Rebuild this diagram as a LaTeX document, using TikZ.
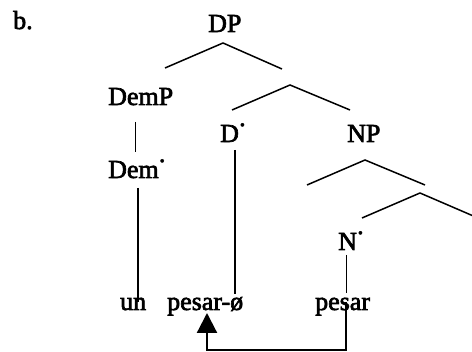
\documentclass[tikz,border=0pt]{standalone}
\usepackage{fontspec}
\setmainfont{Liberation Serif}[FakeBold=2.5]
\usetikzlibrary{arrows.meta}
\tikzset{
  lbl/.style={anchor=base west,inner sep=0pt,font=\fontsize{26}{28}\selectfont},
  branch/.style={line width=1.5pt},
  thinline/.style={line width=1pt},
  thickline/.style={line width=2pt},
  mover/.style={line width=2.2pt,-{Triangle[width=20pt,length=20pt]}}
}
\newcommand{\hd}[1]{#1\kern1pt\raisebox{1.05ex}{\fontsize{14}{14}\selectfont •}}
\begin{document}
\begin{tikzpicture}[x=1pt,y=-1pt]
\useasboundingbox (0,0) rectangle (472,352);
\node[lbl] (b) at (13,29) {b.};
\node[lbl] (dp) at (208,32) {DP};
\node[lbl] (demp) at (108,105) {DemP};
\node[lbl] (dem) at (108,178) {\hd{Dem}};
\node[lbl] (d) at (220,142) {\hd{D}};
\node[lbl] (np) at (347,142) {NP};
\node[lbl] (n) at (338,250) {\hd{N}};
\node[lbl] (un) at (120,310) {un};
\node[lbl] (pesarphi) at (167,310) {pesar-ø};
\node[lbl] (pesar) at (315,310) {pesar};
% branches
\coordinate (a1) at (223,43);
\coordinate (a1l) at (165,68);
\coordinate (a1r) at (282,69);
\coordinate (a2) at (290,85);
\coordinate (a2l) at (232,110);
\coordinate (a2r) at (350,110);
\coordinate (a3) at (365,160);
\coordinate (a3l) at (307,185);
\coordinate (a3r) at (425,185);
\coordinate (a4) at (420,193);
\coordinate (a4l) at (362,218);
\coordinate (a4r) at (478,218);
\begin{scope}
\clip (0,0) rectangle (472,352);
\draw[branch] (a1l) -- (a1) -- (a1r);
\draw[branch] (a2l) -- (a2) -- (a2r);
\draw[branch] (a3l) -- (a3) -- (a3r);
\draw[branch] (a4l) -- (a4) -- (a4r);
\end{scope}
% vertical lines
\coordinate (v1t) at (135,122);
\coordinate (v1b) at (135,152);
\draw[thinline] (v1t) -- (v1b);
\coordinate (v2t) at (138,188);
\coordinate (v2b) at (138,302);
\draw[thickline] (v2t) -- (v2b);
\coordinate (v3t) at (235,150);
\coordinate (v3b) at (235,294);
\draw[thickline] (v3t) -- (v3b);
\coordinate (v4t) at (346,255);
\coordinate (v4b) at (346,293);
\draw[thinline] (v4t) -- (v4b);
% movement arrow
\coordinate (m0) at (346,302);
\coordinate (m1) at (346,350);
\coordinate (m2) at (207,350);
\coordinate (m3) at (207,313);
\draw[mover] (m0) -- (m1) -- (m2) -- (m3);
\end{tikzpicture}
\end{document}
